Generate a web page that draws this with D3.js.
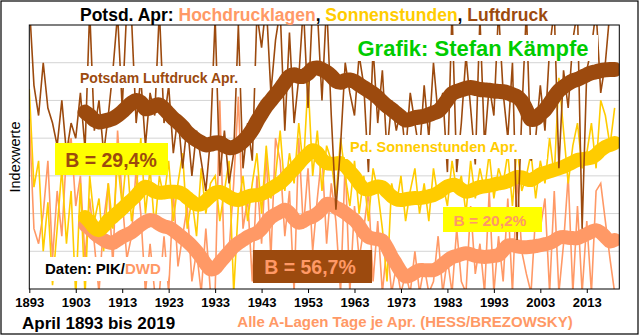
<!DOCTYPE html>
<html><head><meta charset="utf-8">
<script src="https://cdn.jsdelivr.net/npm/d3@7"></script>
<style>
body{margin:0;background:#fff}
svg{display:block;font-family:"Liberation Sans",Arial,sans-serif}
</style>
</head><body>
<svg id="chart" width="640" height="336"></svg>
<script>
// April values for Potsdam, 1893-2019, as index values (no unit on the y axis)
const firstYear = 1893;
const tickYears = [1893,1903,1913,1923,1933,1943,1953,1963,1973,1983,1993,2003,2013];

// Luftdruck (air pressure), yearly
const luftdruck = [
  7.6,5.4,4.6,6.0,4.8,4.4,3.8,5.0,3.6,4.4,
  4.0,5.2,3.7,7.4,4.2,5.0,3.6,4.6,5.8,7.3,
  4.8,7.5,7.2,4.4,5.6,3.8,5.2,4.6,7.4,4.4,
  5.4,3.6,4.6,3.2,4.4,3.0,4.2,3.4,2.6,4.0,
  7.2,3.0,4.2,2.8,3.6,7.0,3.2,4.4,3.4,7.3,
  6.4,7.6,5.2,6.6,7.4,4.2,6.8,4.4,5.6,7.5,
  4.8,7.6,7.4,5.0,7.6,4.6,2.1,3.8,6.0,5.2,
  4.6,6.2,5.4,3.1,6.4,4.4,5.8,3.6,5.0,4.2,
  4.8,3.6,5.2,4.4,3.6,5.4,4.0,6.0,4.6,5.2,
  3.1,7.4,3.1,4.4,6.2,4.8,3.3,7.2,3.8,5.4,
  4.6,7.4,5.2,4.0,6.0,1.3,4.6,7.4,3.4,4.0,
  5.4,4.2,6.4,7.4,3.2,5.8,4.8,6.6,7.4,1.6,
  5.8,6.4,7.4,5.2,6.0,7.4,7.5
];
// Sonnenstunden (sunshine hours), yearly
const sonnenstunden = [
  5.3,2.7,3.4,1.0,2.3,0.1,1.6,3.2,1.2,2.6,
  -0.2,2.8,-0.2,3.0,1.8,2.4,1.0,2.8,1.6,3.4,
  2.2,3.6,1.8,2.6,4.0,2.0,3.2,1.6,3.0,2.4,
  3.4,1.8,2.8,3.6,1.6,2.4,1.4,3.2,2.0,2.8,
  3.0,1.8,2.6,3.4,-0.1,2.2,3.0,1.8,2.8,3.6,
  2.0,3.8,2.4,3.0,4.2,2.6,3.6,2.8,4.4,3.2,
  5.5,3.0,4.2,2.6,3.8,3.4,2.4,4.0,3.0,2.2,
  3.4,2.0,3.0,1.8,3.2,2.6,1.6,0.2,2.8,2.2,
  3.0,1.8,2.6,3.2,2.0,2.8,1.8,3.2,2.4,2.8,
  2.2,3.4,2.6,3.0,2.0,3.4,2.4,3.2,2.6,3.6,
  2.4,3.2,2.8,3.6,2.2,3.8,2.6,3.0,3.6,2.4,
  3.4,2.8,4.0,3.0,5.6,4.2,2.8,3.8,4.4,3.2,
  3.6,4.4,3.2,5.0,4.6,3.8,4.8
];
// Hochdrucklagen (days with anticyclonic weather types), yearly
const hochdrucklagen = [
  4.5,1.6,1.2,2.0,3.4,0.8,2.6,1.4,3.6,4.0,
  2.2,3.0,0.8,2.4,1.2,-0.1,1.8,2.8,0.6,4.2,
  2.4,0.8,1.4,3.2,2.0,-0.1,1.2,-0.1,-0.1,1.4,
  -0.1,2.6,0.6,1.4,2.2,0.2,1.0,-0.1,1.6,-0.1,
  -0.1,5.0,0.6,1.0,2.8,5.1,1.6,2.4,0.2,3.0,
  1.2,3.6,0.8,4.0,3.4,1.4,2.6,-0.1,4.0,1.6,
  3.2,1.0,2.4,3.6,1.2,2.8,1.8,-0.1,3.4,-0.1,
  2.2,0.8,1.6,2.6,0.2,1.8,-0.1,1.2,-0.1,0.6,
  -0.1,0.4,-0.1,1.0,-0.1,0.6,-0.1,0.2,1.4,-0.1,
  0.8,-0.1,1.6,0.2,-0.1,2.2,0.4,1.2,-0.1,2.6,
  -0.1,1.4,0.2,2.4,-0.1,3.0,1.0,
  0.4,-0.1,2.0,1.6,2.4,-0.1,2.6,-0.1,1.2,3.0,
  -0.1,2.2,-0.1,1.8,-0.1,2.6,2.8,1.8,0.8,-0.1
];

// Smoothed curves (moving averages), 1905-2019
const smoothStart = 1905;
const luftdruckMA = [
  4.69,4.60,4.48,4.43,4.45,4.48,4.52,4.60,4.70,4.82,
  4.93,5.00,4.95,4.78,4.80,4.86,4.88,4.78,4.65,4.52,
  4.42,4.30,4.15,4.04,3.95,3.88,3.82,3.84,3.87,3.87,
  3.80,3.75,3.76,3.82,3.92,4.05,4.22,4.45,4.65,4.85,
  5.00,5.15,5.30,5.48,5.64,5.68,5.64,5.64,5.72,5.84,
  5.86,5.82,5.75,5.65,5.52,5.48,5.53,5.54,5.50,5.42,
  5.34,5.26,5.18,5.08,4.96,4.85,4.76,4.66,4.56,4.48,
  4.50,4.54,4.56,4.58,4.62,4.67,4.72,4.85,5.02,5.18,
  5.24,5.28,5.32,5.34,5.32,5.29,5.28,5.27,5.25,5.24,
  5.23,5.20,5.15,5.10,4.98,4.75,4.50,4.52,4.64,4.75,
  4.92,5.10,5.26,5.36,5.45,5.52,5.56,5.62,5.68,5.73,
  5.76,5.79,5.81,5.82,5.82
];
const sonnenstundenMA = [
  1.91,1.78,1.62,1.56,1.66,1.82,1.91,2.02,2.13,2.25,
  2.36,2.48,2.62,2.71,2.66,2.58,2.55,2.56,2.58,2.58,
  2.57,2.52,2.42,2.32,2.24,2.25,2.34,2.46,2.55,2.57,
  2.52,2.44,2.38,2.36,2.40,2.45,2.48,2.49,2.52,2.58,
  2.66,2.74,2.81,2.92,3.06,3.18,3.32,3.46,3.58,3.68,
  3.62,3.44,3.34,3.32,3.33,3.34,3.26,3.12,2.98,2.80,
  2.66,2.64,2.68,2.72,2.70,2.58,2.46,2.38,2.36,2.38,
  2.40,2.41,2.41,2.43,2.46,2.49,2.55,2.64,2.72,2.76,
  2.74,2.64,2.58,2.60,2.66,2.70,2.72,2.74,2.77,2.80,
  2.82,2.86,2.92,2.97,2.96,2.91,2.89,2.96,3.04,3.08,
  3.12,3.16,3.20,3.24,3.30,3.36,3.42,3.44,3.46,3.48,
  3.56,3.68,3.77,3.82,3.87
];
const hochdrucklagenMA = [
  1.70,1.60,1.48,1.38,1.30,1.24,1.22,1.30,1.38,1.44,
  1.50,1.60,1.70,1.78,1.83,1.80,1.72,1.66,1.63,1.56,
  1.46,1.36,1.26,1.14,1.00,0.84,0.66,0.52,0.55,0.70,
  0.84,0.98,1.12,1.22,1.30,1.38,1.44,1.49,1.60,1.76,
  1.90,1.98,2.04,2.10,2.02,1.86,1.76,1.80,1.88,1.92,
  2.00,2.12,2.26,2.24,2.16,2.10,2.02,1.92,1.83,1.68,
  1.50,1.38,1.34,1.32,1.28,1.10,0.86,0.66,0.46,0.33,
  0.36,0.44,0.50,0.50,0.50,0.50,0.56,0.66,0.76,0.84,
  0.88,0.92,0.95,0.92,0.88,0.86,0.85,0.86,0.88,0.90,
  1.02,1.15,1.16,1.13,1.11,1.11,1.12,1.14,1.16,1.19,
  1.22,1.28,1.36,1.38,1.36,1.35,1.35,1.40,1.46,1.52,
  1.56,1.50,1.38,1.26,1.30
];

const COL_BROWN = "#9c4a0e", COL_SUN = "#ffcc00", COL_HIGH = "#ff9966";

const svg = d3.select("#chart");
const plot = {left: 29.3, right: 619.3, top: 25, bottom: 289};

const x = d3.scaleLinear().domain([1893, 2020]).range([plot.left, plot.right]);
const y = d3.scaleLinear().domain([0, 7]).range([plot.bottom, plot.top]);

// outer frame
svg.append("rect").attr("x", 1).attr("y", 1).attr("width", 637).attr("height", 333)
  .attr("fill", "#fff").attr("stroke", "#000").attr("stroke-width", 1.2);

// horizontal gridlines
svg.append("g").selectAll("line").data(d3.range(1, 7)).join("line")
  .attr("x1", plot.left).attr("x2", plot.right)
  .attr("y1", d => y(d)).attr("y2", d => y(d))
  .attr("stroke", "#d4d4d4").attr("stroke-width", 1);

svg.append("clipPath").attr("id", "plotClip").append("rect")
  .attr("x", plot.left).attr("y", plot.top)
  .attr("width", plot.right - plot.left).attr("height", plot.bottom - plot.top);

const g = svg.append("g").attr("clip-path", "url(#plotClip)");

const yearly = arr => arr.map((v, i) => ({year: firstYear + i, v}));
const smooth = arr => arr.map((v, i) => ({year: smoothStart + i, v}));
const line = d3.line().x(d => x(d.year)).y(d => y(d.v));
const smoothLine = d3.line().x(d => x(d.year)).y(d => y(d.v)).curve(d3.curveCatmullRom);

function thin(arr, color) {
  g.append("path").datum(yearly(arr)).attr("d", line)
    .attr("fill", "none").attr("stroke", color).attr("stroke-width", 1.6)
    .attr("stroke-linejoin", "miter");
}
function thick(arr, color, w) {
  g.append("path").datum(smooth(arr)).attr("d", smoothLine)
    .attr("fill", "none").attr("stroke", color).attr("stroke-width", w)
    .attr("stroke-linejoin", "round").attr("stroke-linecap", "round");
}

thin(hochdrucklagen, COL_HIGH);
thin(sonnenstunden, COL_SUN);
thick(hochdrucklagenMA, COL_HIGH, 14);
thick(sonnenstundenMA, COL_SUN, 14);
thin(luftdruck, COL_BROWN);
thick(luftdruckMA, COL_BROWN, 15);

// plot frame
svg.append("rect").attr("x", plot.left).attr("y", plot.top)
  .attr("width", plot.right - plot.left).attr("height", plot.bottom - plot.top)
  .attr("fill", "none").attr("stroke", "#000").attr("stroke-width", 1);

// x axis
const xAxis = d3.axisBottom(x).tickValues(tickYears).tickFormat(d3.format("d"))
  .tickSize(4).tickPadding(5);
const ax = svg.append("g").attr("transform", `translate(0,${plot.bottom})`).call(xAxis);
ax.select(".domain").remove();
ax.selectAll("line").attr("stroke", "#000");
ax.selectAll("text").attr("font-size", 13).attr("font-weight", "bold")
  .attr("fill", "#000").attr("font-family", "'Liberation Sans',Arial,sans-serif");

// y axis title
svg.append("text").attr("transform", "translate(20,157) rotate(-90)")
  .attr("text-anchor", "middle").attr("font-size", 14.5).text("Indexwerte");

// title
const title = svg.append("text").attr("x", 314).attr("y", 21)
  .attr("text-anchor", "middle").attr("font-size", 17.5).attr("font-weight", "bold");
title.append("tspan").attr("fill", "#000").text("Potsd. Apr: ");
title.append("tspan").attr("fill", COL_HIGH).text("Hochdrucklagen");
title.append("tspan").attr("fill", "#000").text(", ");
title.append("tspan").attr("fill", COL_SUN).text("Sonnenstunden");
title.append("tspan").attr("fill", "#000").text(", ");
title.append("tspan").attr("fill", COL_BROWN).text("Luftdruck");

// labels with solid background
function boxLabel(bx, by, bw, bh, fill) {
  svg.append("rect").attr("x", bx).attr("y", by).attr("width", bw).attr("height", bh).attr("fill", fill);
}
boxLabel(350, 35, 248, 26, "#fff");
svg.append("text").attr("x", 473).attr("y", 56).attr("text-anchor", "middle")
  .attr("font-size", 22).attr("font-weight", "bold").attr("fill", "#00cc00")
  .text("Grafik: Stefan Kämpfe");

boxLabel(75, 66, 182, 22, "#fff");
svg.append("text").attr("x", 80).attr("y", 83)
  .attr("font-size", 14).attr("font-weight", "bold").attr("fill", COL_BROWN)
  .text("Potsdam Luftdruck Apr.");

boxLabel(345, 135, 202, 24, "#fff");
svg.append("text").attr("x", 350).attr("y", 152)
  .attr("font-size", 14.5).attr("font-weight", "bold").attr("fill", COL_SUN)
  .text("Pd. Sonnenstunden Apr.");

boxLabel(40, 257, 128, 24, "#fff");
const daten = svg.append("text").attr("x", 45).attr("y", 274)
  .attr("font-size", 15).attr("font-weight", "bold");
daten.append("tspan").attr("fill", "#000").text("Daten: PIK/");
daten.append("tspan").attr("fill", COL_HIGH).text("DWD");

// correlation boxes
boxLabel(55, 143, 113, 32, "#ffff00");
svg.append("text").attr("x", 111).attr("y", 166.5).attr("text-anchor", "middle")
  .attr("font-size", 19.5).attr("font-weight", "bold").attr("fill", COL_BROWN).text("B = 29,4%");

boxLabel(253, 250, 119, 33, COL_BROWN);
svg.append("text").attr("x", 310).attr("y", 274).attr("text-anchor", "middle")
  .attr("font-size", 19.5).attr("font-weight", "bold").attr("fill", COL_HIGH).text("B = 56,7%");

boxLabel(443, 207, 99, 25, "#ffff00");
svg.append("text").attr("x", 490).attr("y", 225.5).attr("text-anchor", "middle")
  .attr("font-size", 15.5).attr("font-weight", "bold").attr("fill", COL_HIGH).text("B = 20,2%");

// footer
svg.append("text").attr("x", 22).attr("y", 329)
  .attr("font-size", 17).attr("font-weight", "bold").attr("fill", "#000")
  .text("April 1893 bis 2019");
svg.append("text").attr("x", 405).attr("y", 327).attr("text-anchor", "middle")
  .attr("font-size", 15).attr("font-weight", "bold").attr("fill", COL_HIGH)
  .text("Alle A-Lagen Tage je Apr. (HESS/BREZOWSKY)");
</script>
</body></html>
